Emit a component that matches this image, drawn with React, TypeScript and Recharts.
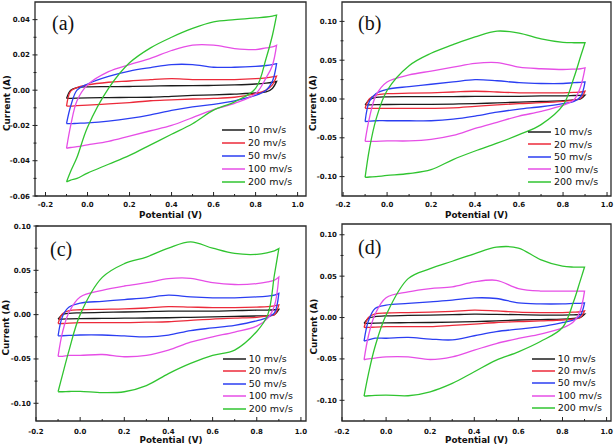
import React from "react";
import { LineChart, Line, XAxis, YAxis, ReferenceArea, Legend } from "recharts";

const RATES = ["10 mv/s", "20 mv/s", "50 mv/s", "100 mv/s", "200 mv/s"];
const COLORS = ["#1c1c1c", "#ec2a3a", "#2b3ef2", "#e64ee6", "#30c430"];

// potential grid (V), swept -0.1 -> 0.9 and back again
const SCAN_X = [-0.1, -0.08, -0.05, 0, 0.1, 0.2, 0.3, 0.4, 0.5, 0.6, 0.7, 0.8, 0.85, 0.88, 0.9];

// current (A), one row per scan rate; FWD = anodic sweep, REV = cathodic sweep (same grid)
const A_FWD = [
  [-0.0047, 0.0, 0.0015, 0.0019, 0.002, 0.0021, 0.0023, 0.0025, 0.0026, 0.0027, 0.003, 0.0035, 0.004, 0.0045, 0.005],
  [-0.009, -0.0005, 0.0015, 0.003, 0.0045, 0.0052, 0.006, 0.0065, 0.006, 0.006, 0.006, 0.0065, 0.007, 0.0075, 0.008],
  [-0.019, -0.009, 0.0, 0.0035, 0.0078, 0.0108, 0.0128, 0.0145, 0.0145, 0.013, 0.013, 0.0135, 0.014, 0.0145, 0.015],
  [-0.033, -0.02, -0.006, 0.003, 0.0105, 0.0145, 0.018, 0.0225, 0.0255, 0.0255, 0.0236, 0.023, 0.024, 0.0245, 0.0255],
  [-0.052, -0.046, -0.038, -0.021, 0.001, 0.0155, 0.024, 0.03, 0.035, 0.0387, 0.04, 0.041, 0.0415, 0.042, 0.0425],
];
const A_REV = [
  [-0.0047, -0.0046, -0.0045, -0.0044, -0.0042, -0.0041, -0.004, -0.0035, -0.003, -0.0027, -0.0022, -0.0016, -0.001, 0.001, 0.005],
  [-0.009, -0.009, -0.0088, -0.0085, -0.0078, -0.007, -0.006, -0.0055, -0.005, -0.0047, -0.004, -0.002, 0.0, 0.003, 0.008],
  [-0.019, -0.019, -0.0188, -0.0185, -0.0175, -0.016, -0.014, -0.0115, -0.0095, -0.008, -0.006, -0.003, 0.0, 0.005, 0.015],
  [-0.033, -0.0325, -0.032, -0.031, -0.029, -0.026, -0.023, -0.02, -0.0155, -0.011, -0.0075, -0.002, 0.007, 0.014, 0.0255],
  [-0.052, -0.051, -0.05, -0.047, -0.042, -0.037, -0.031, -0.025, -0.019, -0.0113, -0.0066, 0.001, 0.018, 0.031, 0.0425],
];

const B_FWD = [
  [-0.0077, -0.001, 0.002, 0.0028, 0.003, 0.003, 0.003, 0.0035, 0.0035, 0.0035, 0.004, 0.004, 0.0045, 0.0048, 0.005],
  [-0.012, 0.0005, 0.005, 0.0068, 0.0075, 0.008, 0.009, 0.01, 0.009, 0.008, 0.008, 0.008, 0.0085, 0.009, 0.01],
  [-0.029, -0.003, 0.007, 0.0125, 0.016, 0.019, 0.022, 0.025, 0.0235, 0.021, 0.02, 0.02, 0.021, 0.0215, 0.022],
  [-0.0545, -0.024, 0.005, 0.022, 0.031, 0.036, 0.041, 0.046, 0.047, 0.041, 0.039, 0.038, 0.0385, 0.039, 0.04],
  [-0.101, -0.064, -0.026, 0.011, 0.043, 0.059, 0.07, 0.08, 0.0875, 0.085, 0.0775, 0.073, 0.0725, 0.0725, 0.0725],
];
const B_REV = [
  [-0.0077, -0.0075, -0.0073, -0.0071, -0.007, -0.0068, -0.0065, -0.006, -0.005, -0.004, -0.0032, -0.0022, -0.001, 0.0, 0.005],
  [-0.012, -0.012, -0.012, -0.012, -0.012, -0.012, -0.0115, -0.0095, -0.0075, -0.006, -0.0048, -0.003, -0.0015, 0.001, 0.01],
  [-0.029, -0.0285, -0.028, -0.028, -0.028, -0.028, -0.026, -0.022, -0.017, -0.013, -0.01, -0.006, -0.003, 0.003, 0.022],
  [-0.0545, -0.0545, -0.0545, -0.054, -0.054, -0.052, -0.047, -0.038, -0.03, -0.022, -0.016, -0.008, -0.001, 0.016, 0.04],
  [-0.101, -0.1005, -0.1, -0.0985, -0.096, -0.091, -0.078, -0.067, -0.057, -0.046, -0.033, -0.008, 0.028, 0.055, 0.0725],
];

const C_FWD = [
  [-0.005, 0.0, 0.0015, 0.002, 0.0025, 0.003, 0.0035, 0.004, 0.004, 0.004, 0.0045, 0.005, 0.0052, 0.0055, 0.006],
  [-0.01, 0.001, 0.0045, 0.0055, 0.006, 0.0065, 0.0075, 0.009, 0.0085, 0.008, 0.008, 0.0085, 0.009, 0.01, 0.011],
  [-0.024, -0.002, 0.0085, 0.013, 0.015, 0.017, 0.019, 0.022, 0.02, 0.019, 0.019, 0.02, 0.021, 0.022, 0.024],
  [-0.047, -0.02, 0.003, 0.02, 0.0274, 0.0323, 0.036, 0.0406, 0.041, 0.036, 0.034, 0.035, 0.037, 0.039, 0.0425],
  [-0.087, -0.068, -0.04, 0.0, 0.042, 0.0575, 0.065, 0.075, 0.082, 0.075, 0.069, 0.068, 0.07, 0.072, 0.0745],
];
const C_REV = [
  [-0.005, -0.005, -0.0048, -0.0045, -0.0043, -0.004, -0.0038, -0.0035, -0.003, -0.0025, -0.002, -0.0015, -0.001, 0.0, 0.006],
  [-0.01, -0.01, -0.0095, -0.009, -0.009, -0.009, -0.0085, -0.008, -0.0065, -0.005, -0.004, -0.003, -0.0015, 0.0, 0.011],
  [-0.024, -0.0238, -0.0235, -0.023, -0.023, -0.024, -0.025, -0.023, -0.018, -0.015, -0.012, -0.007, -0.003, 0.002, 0.024],
  [-0.047, -0.047, -0.046, -0.046, -0.045, -0.0475, -0.046, -0.04, -0.031, -0.025, -0.0196, -0.013, -0.004, 0.01, 0.0425],
  [-0.087, -0.087, -0.0867, -0.0865, -0.088, -0.087, -0.08, -0.0665, -0.055, -0.046, -0.04, -0.019, 0.0, 0.045, 0.0745],
];

const D_FWD = [
  [-0.007, -0.001, 0.001, 0.002, 0.0025, 0.003, 0.0035, 0.004, 0.0038, 0.0035, 0.003, 0.003, 0.0033, 0.0035, 0.004],
  [-0.012, 0.0, 0.0045, 0.0055, 0.006, 0.0065, 0.0075, 0.009, 0.008, 0.0065, 0.006, 0.006, 0.0065, 0.007, 0.008],
  [-0.0285, -0.004, 0.011, 0.015, 0.017, 0.019, 0.021, 0.0237, 0.023, 0.0177, 0.0165, 0.0165, 0.017, 0.0172, 0.0177],
  [-0.051, -0.022, 0.004, 0.024, 0.031, 0.035, 0.037, 0.043, 0.045, 0.035, 0.032, 0.032, 0.032, 0.032, 0.032],
  [-0.095, -0.068, -0.035, 0.003, 0.047, 0.059, 0.068, 0.077, 0.085, 0.084, 0.07, 0.062, 0.061, 0.061, 0.061],
];
const D_REV = [
  [-0.007, -0.007, -0.0068, -0.0065, -0.0062, -0.006, -0.0055, -0.005, -0.004, -0.003, -0.0025, -0.002, -0.001, 0.0, 0.004],
  [-0.012, -0.012, -0.0115, -0.011, -0.011, -0.011, -0.0095, -0.008, -0.006, -0.005, -0.004, -0.003, -0.002, 0.0, 0.008],
  [-0.0285, -0.027, -0.025, -0.025, -0.024, -0.026, -0.027, -0.022, -0.017, -0.014, -0.011, -0.006, -0.003, 0.002, 0.0177],
  [-0.051, -0.05, -0.049, -0.0475, -0.0475, -0.0507, -0.0475, -0.0394, -0.0314, -0.0253, -0.02, -0.0125, -0.005, 0.008, 0.032],
  [-0.095, -0.0945, -0.094, -0.0937, -0.0945, -0.0897, -0.0796, -0.0655, -0.0514, -0.0414, -0.029, -0.012, 0.019, 0.044, 0.061],
];

const X_TICKS = [-0.2, -0.1, 0, 0.1, 0.2, 0.3, 0.4, 0.5, 0.6, 0.7, 0.8, 0.9, 1.0];
const A_Y_TICKS = [-0.06, -0.05, -0.04, -0.03, -0.02, -0.01, 0, 0.01, 0.02, 0.03, 0.04];
const BCD_Y_TICKS = [-0.1, -0.075, -0.05, -0.025, 0, 0.025, 0.05, 0.075, 0.1];

const SANS = "DejaVu Sans";

function loop(up: number[], down: number[]) {
  const pts = SCAN_X.map((x, i) => ({ x, y: up[i] }));
  for (let i = SCAN_X.length - 1; i >= 0; i--) pts.push({ x: SCAN_X[i], y: down[i] });
  return pts;
}

// centripetal Catmull-Rom, handed to recharts as a d3-style curve factory
function smoothCurve(context: any) {
  let pts: number[][] = [];
  const d = (a: number[], b: number[]) => Math.sqrt(Math.hypot(b[0] - a[0], b[1] - a[1]));
  return {
    areaStart() {},
    areaEnd() {},
    lineStart() {
      pts = [];
    },
    point(x: number, y: number) {
      pts.push([+x, +y]);
    },
    lineEnd() {
      if (!pts.length) return;
      context.moveTo(pts[0][0], pts[0][1]);
      for (let i = 0; i < pts.length - 1; i++) {
        const p0 = pts[Math.max(i - 1, 0)];
        const p1 = pts[i];
        const p2 = pts[i + 1];
        const p3 = pts[Math.min(i + 2, pts.length - 1)];
        const l01 = d(p0, p1), l12 = d(p1, p2), l23 = d(p2, p3);
        let c1 = p1, c2 = p2;
        if (l01 > 1e-6) {
          const a = 2 * l01 * l01 + 3 * l01 * l12 + l12 * l12;
          const n = 3 * l01 * (l01 + l12);
          c1 = [0, 1].map((k) => (p1[k] * a - p0[k] * l12 * l12 + p2[k] * l01 * l01) / n);
        }
        if (l23 > 1e-6) {
          const b = 2 * l23 * l23 + 3 * l23 * l12 + l12 * l12;
          const m = 3 * l23 * (l23 + l12);
          c2 = [0, 1].map((k) => (p2[k] * b + p1[k] * l23 * l23 - p3[k] * l12 * l12) / m);
        }
        context.bezierCurveTo(c1[0], c1[1], c2[0], c2[1], p2[0], p2[1]);
      }
    },
  };
}

function XTick(props: any) {
  const { x, y, payload, gap } = props;
  const v = payload.value;
  const major = Math.abs(Math.round(v * 10)) % 2 === 0;
  return (
    <g>
      <line x1={x} x2={x} y1={y} y2={y - (major ? 4 : 2)} stroke="#222" strokeWidth={1} />
      {major && (
        <text x={x} y={y + gap} textAnchor="middle" fontSize={7} fontWeight="bold" fontFamily={SANS} fill="#111">
          {v.toFixed(1)}
        </text>
      )}
    </g>
  );
}

function YTick(props: any) {
  const { x, y, payload, step } = props;
  const v = payload.value;
  const major = Math.abs(v / step - Math.round(v / step)) < 1e-6;
  const len = major ? 2.5 : 1.5;
  return (
    <g>
      <line x1={x - len} x2={x + len} y1={y} y2={y} stroke="#222" strokeWidth={1} />
      {major && (
        <text x={x - 5} y={y + 2.5} textAnchor="end" fontSize={7} fontWeight="bold" fontFamily={SANS} fill="#111">
          {v.toFixed(2)}
        </text>
      )}
    </g>
  );
}

function LegendBox({ payload, rowH }: any) {
  const items = RATES.map((r, i) => {
    const e = (payload || []).find((p: any) => p.value === r);
    return { value: r, color: e ? e.color : COLORS[i] };
  });
  return (
    <div style={{ fontFamily: SANS, fontSize: 9.5, color: "#111", lineHeight: 1 }}>
      {items.map((e) => (
        <div key={e.value} style={{ display: "flex", alignItems: "center", height: rowH }}>
          <svg width={23} height={4} style={{ display: "block" }}>
            <line x1={0} x2={23} y1={2} y2={2} stroke={e.color} strokeWidth={1.5} />
          </svg>
          <span style={{ marginLeft: 3, whiteSpace: "nowrap" }}>{e.value}</span>
        </div>
      ))}
    </div>
  );
}

function Panel(p: any) {
  return (
    <div style={{ position: "absolute", left: p.left, top: p.top, width: p.width, height: p.height }}>
      <LineChart
        width={p.width}
        height={p.height}
        margin={{ top: p.mTop, right: p.mRight, bottom: 0, left: 0 }}
      >
        <XAxis
          type="number"
          dataKey="x"
          domain={p.xDomain}
          allowDataOverflow
          ticks={X_TICKS}
          interval={0}
          axisLine={false}
          tickLine={false}
          tickSize={0}
          tickMargin={0}
          height={p.xAxisH}
          tick={<XTick gap={p.tickGap} />}
          label={{
            content: (lp: any) => {
              const vb = lp.viewBox;
              return (
                <text
                  x={vb.x + vb.width / 2}
                  y={vb.y + p.titleGap}
                  textAnchor="middle"
                  fontSize={8.8}
                  fontWeight="bold"
                  fontFamily={SANS}
                  fill="#111"
                >
                  Potential (V)
                </text>
              );
            },
          }}
        />
        <YAxis
          type="number"
          domain={p.yDomain}
          allowDataOverflow
          ticks={p.yTicks}
          interval={0}
          axisLine={false}
          tickLine={false}
          tickSize={0}
          tickMargin={0}
          width={p.yAxisW}
          tick={<YTick step={p.yStep} />}
          label={{
            content: (lp: any) => {
              const vb = lp.viewBox;
              const cx = vb.x + p.yTitleX;
              const cy = vb.y + vb.height / 2 + 4;
              return (
                <text
                  transform={`translate(${cx},${cy}) rotate(-90)`}
                  textAnchor="middle"
                  dominantBaseline="central"
                  fontSize={8.8}
                  fontWeight="bold"
                  fontFamily={SANS}
                  fill="#111"
                >
                  Current (A)
                </text>
              );
            },
          }}
        />
        <ReferenceArea
          x1={p.xDomain[0]}
          x2={p.xDomain[1]}
          y1={p.yDomain[0]}
          y2={p.yDomain[1]}
          fill="none"
          stroke="#2a2a2a"
          strokeWidth={1.3}
          ifOverflow="visible"
        />
        {RATES.map((r, i) => (
          <Line
            key={r}
            name={r}
            data={loop(p.fwd[i], p.rev[i])}
            dataKey="y"
            type={smoothCurve as any}
            stroke={COLORS[i]}
            strokeWidth={1.3}
            dot={false}
            activeDot={false}
            isAnimationActive={false}
          />
        ))}
        <Legend
          layout="vertical"
          align="center"
          verticalAlign="middle"
          wrapperStyle={{ left: p.legendX, top: p.legendY, width: "auto" }}
          content={<LegendBox rowH={p.rowH} />}
        />
      </LineChart>
      <div
        style={{
          position: "absolute",
          left: p.tagX,
          top: p.tagTop,
          fontFamily: "Liberation Serif",
          fontSize: 20,
          lineHeight: 1,
          color: "#111",
        }}
      >
        ({p.tag})
      </div>
    </div>
  );
}

export default function App() {
  return (
    <div style={{ position: "absolute", left: 0, top: 0, width: 614, height: 447, background: "#fff" }}>
      <Panel
        tag="a" left={0} top={0} width={310} height={224} mTop={2} mRight={4}
        yAxisW={35} xAxisH={28} xDomain={[-0.25, 1.04]} yDomain={[-0.06, 0.05]}
        yTicks={A_Y_TICKS} yStep={0.02} fwd={A_FWD} rev={A_REV}
        tickGap={10.7} titleGap={22} yTitleX={6.5} tagX={52} tagTop={13}
        legendX={222} legendY={123.5} rowH={12.9}
      />
      <Panel
        tag="b" left={305} top={0} width={309} height={224} mTop={2} mRight={3}
        yAxisW={37} xAxisH={28} xDomain={[-0.205, 1.018]} yDomain={[-0.125, 0.125]}
        yTicks={BCD_Y_TICKS} yStep={0.05} fwd={B_FWD} rev={B_REV}
        tickGap={10.7} titleGap={22.3} yTitleX={8} tagX={53} tagTop={13}
        legendX={223} legendY={125.7} rowH={12.5}
      />
      <Panel
        tag="c" left={0} top={222} width={310} height={225} mTop={4} mRight={4}
        yAxisW={36} xAxisH={26} xDomain={[-0.2, 1.023]} yDomain={[-0.12, 0.1]}
        yTicks={BCD_Y_TICKS} yStep={0.05} fwd={C_FWD} rev={C_REV}
        tickGap={13} titleGap={22} yTitleX={6} tagX={50} tagTop={17}
        legendX={222.7} legendY={130.4} rowH={12.5}
      />
      <Panel
        tag="d" left={305} top={222} width={309} height={225} mTop={2} mRight={3}
        yAxisW={37} xAxisH={26} xDomain={[-0.2, 1.02]} yDomain={[-0.125, 0.113]}
        yTicks={BCD_Y_TICKS} yStep={0.05} fwd={D_FWD} rev={D_REV}
        tickGap={13} titleGap={21.5} yTitleX={9} tagX={53} tagTop={14.7}
        legendX={226.7} legendY={130.5} rowH={12.3}
      />
    </div>
  );
}
